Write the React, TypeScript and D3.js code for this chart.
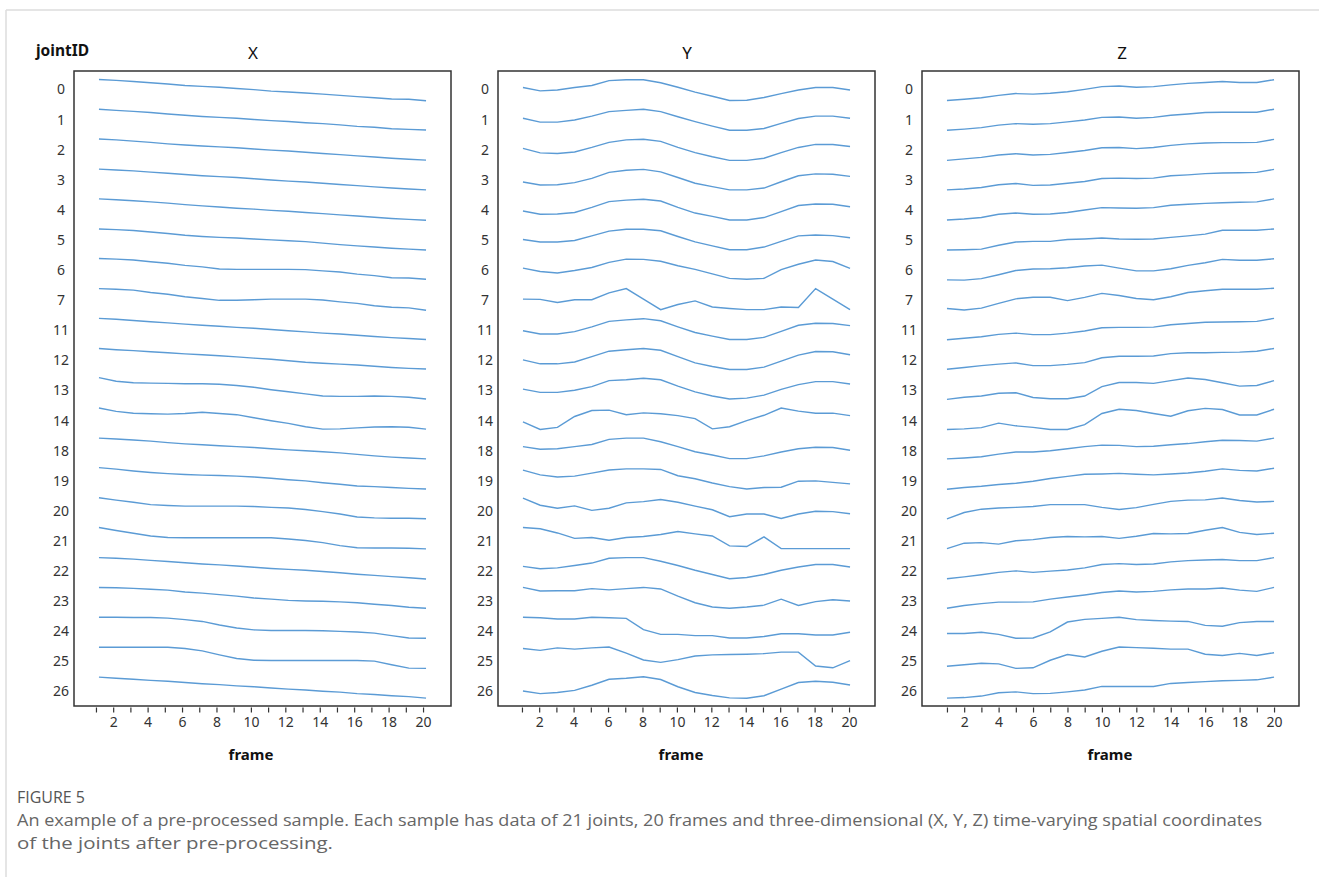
import React, { useEffect, useRef } from "react";
import * as d3 from "d3";

// joint ids shown on the left of each panel, top to bottom
const jointIds = ["0", "1", "2", "3", "4", "5", "6", "7", "11", "12", "13", "14", "18", "19", "20", "21", "22", "23", "24", "25", "26"];
const frames = [1, 2, 3, 4, 5, 6, 7, 8, 9, 10, 11, 12, 13, 14, 15, 16, 17, 18, 19, 20];
const frameTickLabels = [2, 4, 6, 8, 10, 12, 14, 16, 18, 20];
const panelTitles = ["X", "Y", "Z"];

// normalised coordinate per joint (row) and frame, offset from the row centre
const xValues = [
  [-0.32, -0.29, -0.25, -0.21, -0.17, -0.12, -0.09, -0.06, -0.02, 0.02, 0.07, 0.10, 0.13, 0.17, 0.21, 0.25, 0.29, 0.33, 0.34, 0.39],
  [-0.33, -0.29, -0.26, -0.22, -0.17, -0.13, -0.09, -0.06, -0.03, 0.01, 0.05, 0.08, 0.12, 0.15, 0.19, 0.24, 0.27, 0.32, 0.34, 0.36],
  [-0.34, -0.31, -0.27, -0.23, -0.18, -0.14, -0.11, -0.08, -0.05, -0.01, 0.03, 0.06, 0.10, 0.14, 0.18, 0.22, 0.26, 0.30, 0.33, 0.36],
  [-0.34, -0.31, -0.28, -0.24, -0.20, -0.16, -0.12, -0.09, -0.06, -0.02, 0.02, 0.06, 0.09, 0.13, 0.17, 0.21, 0.25, 0.29, 0.32, 0.35],
  [-0.35, -0.32, -0.29, -0.25, -0.21, -0.16, -0.12, -0.08, -0.04, -0.01, 0.03, 0.06, 0.10, 0.14, 0.18, 0.22, 0.26, 0.30, 0.33, 0.36],
  [-0.35, -0.33, -0.30, -0.25, -0.20, -0.14, -0.10, -0.07, -0.05, -0.02, 0.01, 0.04, 0.07, 0.12, 0.17, 0.21, 0.25, 0.29, 0.32, 0.35],
  [-0.37, -0.35, -0.32, -0.26, -0.21, -0.14, -0.09, -0.02, -0.01, -0.01, -0.01, -0.01, 0.00, 0.04, 0.08, 0.15, 0.20, 0.27, 0.28, 0.32],
  [-0.37, -0.35, -0.32, -0.24, -0.18, -0.10, -0.04, 0.02, 0.02, 0.00, -0.02, -0.02, -0.02, 0.01, 0.07, 0.12, 0.20, 0.25, 0.27, 0.35],
  [-0.38, -0.35, -0.31, -0.27, -0.23, -0.19, -0.15, -0.12, -0.08, -0.05, -0.01, 0.03, 0.07, 0.11, 0.14, 0.18, 0.22, 0.26, 0.29, 0.32],
  [-0.38, -0.34, -0.31, -0.27, -0.24, -0.20, -0.17, -0.14, -0.10, -0.06, -0.02, 0.03, 0.08, 0.11, 0.14, 0.17, 0.21, 0.25, 0.28, 0.30],
  [-0.41, -0.29, -0.24, -0.23, -0.22, -0.21, -0.21, -0.19, -0.15, -0.09, -0.01, 0.06, 0.13, 0.20, 0.21, 0.21, 0.20, 0.21, 0.24, 0.30],
  [-0.40, -0.29, -0.23, -0.21, -0.20, -0.22, -0.26, -0.22, -0.18, -0.08, 0.02, 0.11, 0.22, 0.30, 0.29, 0.26, 0.23, 0.22, 0.24, 0.30],
  [-0.40, -0.37, -0.34, -0.30, -0.25, -0.21, -0.18, -0.15, -0.12, -0.09, -0.05, -0.01, 0.02, 0.05, 0.09, 0.14, 0.19, 0.23, 0.26, 0.29],
  [-0.42, -0.37, -0.31, -0.26, -0.22, -0.19, -0.17, -0.16, -0.14, -0.11, -0.07, -0.02, 0.02, 0.08, 0.13, 0.19, 0.21, 0.24, 0.27, 0.29],
  [-0.42, -0.34, -0.27, -0.19, -0.16, -0.14, -0.14, -0.14, -0.14, -0.13, -0.10, -0.08, -0.03, 0.04, 0.12, 0.22, 0.25, 0.26, 0.26, 0.28],
  [-0.43, -0.33, -0.24, -0.15, -0.10, -0.09, -0.09, -0.09, -0.09, -0.09, -0.09, -0.05, 0.00, 0.07, 0.17, 0.24, 0.25, 0.25, 0.26, 0.28],
  [-0.43, -0.41, -0.38, -0.34, -0.30, -0.26, -0.22, -0.19, -0.15, -0.11, -0.07, -0.04, -0.01, 0.03, 0.07, 0.12, 0.16, 0.20, 0.24, 0.28],
  [-0.44, -0.43, -0.41, -0.38, -0.35, -0.29, -0.25, -0.20, -0.15, -0.09, -0.05, -0.01, 0.01, 0.02, 0.04, 0.07, 0.12, 0.16, 0.22, 0.25],
  [-0.45, -0.45, -0.44, -0.44, -0.42, -0.37, -0.31, -0.19, -0.09, -0.03, -0.01, -0.01, -0.01, 0.00, 0.02, 0.04, 0.08, 0.16, 0.24, 0.25],
  [-0.45, -0.45, -0.45, -0.45, -0.45, -0.41, -0.33, -0.20, -0.08, -0.02, -0.01, -0.01, -0.01, -0.01, -0.01, -0.01, 0.01, 0.13, 0.24, 0.25],
  [-0.46, -0.42, -0.39, -0.35, -0.32, -0.28, -0.24, -0.21, -0.17, -0.14, -0.10, -0.06, -0.03, 0.01, 0.04, 0.09, 0.12, 0.16, 0.19, 0.24],
];

const yValues = [
  [-0.05, 0.06, 0.03, -0.05, -0.12, -0.28, -0.31, -0.31, -0.21, -0.06, 0.10, 0.24, 0.38, 0.37, 0.28, 0.15, 0.03, -0.05, -0.05, 0.03],
  [-0.03, 0.10, 0.10, 0.03, -0.10, -0.25, -0.29, -0.33, -0.25, -0.08, 0.08, 0.23, 0.37, 0.37, 0.31, 0.14, -0.02, -0.10, -0.10, -0.03],
  [-0.03, 0.12, 0.14, 0.09, -0.06, -0.23, -0.31, -0.33, -0.26, -0.06, 0.11, 0.25, 0.37, 0.37, 0.30, 0.11, -0.06, -0.16, -0.16, -0.09],
  [0.09, 0.19, 0.18, 0.11, -0.03, -0.23, -0.30, -0.33, -0.25, -0.06, 0.13, 0.24, 0.35, 0.35, 0.29, 0.08, -0.12, -0.18, -0.17, -0.10],
  [0.05, 0.16, 0.15, 0.10, -0.07, -0.26, -0.31, -0.34, -0.28, -0.07, 0.12, 0.23, 0.35, 0.35, 0.27, 0.07, -0.13, -0.18, -0.17, -0.09],
  [0.00, 0.08, 0.08, 0.03, -0.12, -0.28, -0.34, -0.34, -0.29, -0.10, 0.08, 0.21, 0.34, 0.34, 0.25, 0.06, -0.12, -0.15, -0.13, -0.06],
  [-0.05, 0.06, 0.11, 0.03, -0.07, -0.24, -0.35, -0.34, -0.28, -0.13, -0.01, 0.14, 0.29, 0.32, 0.29, 0.00, -0.18, -0.32, -0.27, -0.04],
  [-0.02, -0.01, 0.09, 0.00, 0.00, -0.23, -0.37, -0.02, 0.33, 0.16, 0.04, 0.24, 0.29, 0.33, 0.33, 0.24, 0.26, -0.37, -0.02, 0.33],
  [0.03, 0.14, 0.14, 0.06, -0.10, -0.28, -0.33, -0.37, -0.30, -0.10, 0.09, 0.21, 0.32, 0.32, 0.25, 0.05, -0.15, -0.22, -0.21, -0.14],
  [0.00, 0.13, 0.13, 0.07, -0.11, -0.29, -0.34, -0.38, -0.32, -0.11, 0.10, 0.22, 0.32, 0.32, 0.24, 0.04, -0.16, -0.28, -0.27, -0.17],
  [-0.03, 0.08, 0.08, 0.01, -0.11, -0.31, -0.34, -0.39, -0.34, -0.13, 0.06, 0.20, 0.30, 0.27, 0.17, -0.02, -0.18, -0.28, -0.28, -0.20],
  [0.06, 0.31, 0.24, -0.12, -0.32, -0.33, -0.18, -0.24, -0.21, -0.15, -0.05, 0.29, 0.22, 0.02, -0.16, -0.40, -0.30, -0.23, -0.23, -0.15],
  [-0.12, -0.03, -0.05, -0.12, -0.19, -0.36, -0.40, -0.40, -0.28, -0.12, 0.05, 0.16, 0.28, 0.28, 0.19, 0.06, -0.05, -0.10, -0.09, 0.00],
  [-0.34, -0.18, -0.11, -0.14, -0.24, -0.34, -0.38, -0.38, -0.36, -0.15, -0.05, 0.09, 0.21, 0.29, 0.24, 0.23, 0.03, 0.02, 0.07, 0.12],
  [-0.41, -0.17, -0.07, -0.15, 0.00, -0.07, -0.25, -0.29, -0.36, -0.27, -0.14, -0.02, 0.21, 0.12, 0.12, 0.27, 0.12, 0.03, 0.04, 0.11],
  [-0.43, -0.39, -0.25, -0.07, -0.10, -0.01, -0.10, -0.13, -0.20, -0.30, -0.22, -0.15, 0.18, 0.20, -0.12, 0.27, 0.27, 0.27, 0.27, 0.27],
  [-0.14, -0.06, -0.09, -0.17, -0.25, -0.41, -0.43, -0.43, -0.31, -0.17, -0.01, 0.13, 0.27, 0.23, 0.13, -0.01, -0.12, -0.20, -0.20, -0.12],
  [-0.44, -0.32, -0.33, -0.33, -0.40, -0.36, -0.40, -0.44, -0.39, -0.15, 0.07, 0.21, 0.25, 0.21, 0.15, -0.05, 0.16, 0.03, -0.03, 0.01],
  [-0.45, -0.43, -0.39, -0.39, -0.45, -0.43, -0.41, -0.04, 0.12, 0.12, 0.16, 0.16, 0.24, 0.24, 0.19, 0.10, 0.10, 0.14, 0.14, 0.05],
  [-0.41, -0.35, -0.43, -0.39, -0.43, -0.46, -0.26, -0.03, 0.05, -0.04, -0.16, -0.20, -0.21, -0.22, -0.24, -0.29, -0.29, 0.17, 0.23, -0.01],
  [0.00, 0.09, 0.05, -0.02, -0.19, -0.39, -0.42, -0.47, -0.38, -0.14, 0.05, 0.15, 0.23, 0.24, 0.16, -0.06, -0.28, -0.32, -0.29, -0.20],
];

const zValues = [
  [0.38, 0.34, 0.29, 0.21, 0.15, 0.17, 0.14, 0.09, 0.01, -0.08, -0.10, -0.06, -0.08, -0.14, -0.19, -0.22, -0.25, -0.22, -0.22, -0.31],
  [0.37, 0.33, 0.28, 0.20, 0.15, 0.17, 0.15, 0.09, 0.03, -0.06, -0.07, -0.03, -0.06, -0.13, -0.17, -0.22, -0.23, -0.23, -0.23, -0.33],
  [0.37, 0.32, 0.27, 0.19, 0.15, 0.19, 0.17, 0.11, 0.04, -0.05, -0.06, -0.02, -0.06, -0.13, -0.18, -0.21, -0.22, -0.22, -0.23, -0.33],
  [0.35, 0.32, 0.27, 0.18, 0.14, 0.20, 0.19, 0.13, 0.07, -0.03, -0.04, -0.03, -0.04, -0.12, -0.15, -0.19, -0.21, -0.22, -0.23, -0.33],
  [0.35, 0.32, 0.27, 0.16, 0.12, 0.16, 0.15, 0.10, 0.02, -0.06, -0.05, -0.04, -0.06, -0.14, -0.17, -0.20, -0.22, -0.24, -0.25, -0.35],
  [0.35, 0.34, 0.32, 0.19, 0.08, 0.06, 0.06, 0.00, -0.02, -0.05, -0.02, -0.01, -0.02, -0.07, -0.12, -0.18, -0.31, -0.31, -0.31, -0.35],
  [0.34, 0.35, 0.30, 0.17, 0.03, -0.02, -0.03, -0.06, -0.12, -0.15, -0.05, 0.04, 0.04, -0.03, -0.14, -0.23, -0.34, -0.31, -0.31, -0.36],
  [0.29, 0.34, 0.28, 0.12, -0.03, -0.08, -0.08, 0.03, -0.08, -0.21, -0.14, -0.04, 0.00, -0.10, -0.24, -0.30, -0.35, -0.35, -0.35, -0.38],
  [0.33, 0.28, 0.23, 0.15, 0.11, 0.16, 0.16, 0.11, 0.04, -0.07, -0.08, -0.08, -0.09, -0.17, -0.21, -0.25, -0.26, -0.27, -0.28, -0.38],
  [0.31, 0.25, 0.19, 0.14, 0.10, 0.19, 0.19, 0.15, 0.09, -0.07, -0.12, -0.12, -0.13, -0.21, -0.24, -0.24, -0.25, -0.26, -0.29, -0.38],
  [0.31, 0.24, 0.20, 0.11, 0.09, 0.25, 0.29, 0.29, 0.20, -0.11, -0.25, -0.25, -0.22, -0.31, -0.40, -0.35, -0.24, -0.13, -0.15, -0.31],
  [0.31, 0.29, 0.25, 0.10, 0.19, 0.24, 0.31, 0.31, 0.15, -0.22, -0.36, -0.32, -0.22, -0.13, -0.31, -0.39, -0.35, -0.17, -0.17, -0.36],
  [0.29, 0.26, 0.22, 0.13, 0.06, 0.06, 0.02, -0.05, -0.12, -0.17, -0.16, -0.12, -0.13, -0.18, -0.22, -0.28, -0.33, -0.32, -0.30, -0.40],
  [0.30, 0.24, 0.20, 0.14, 0.10, 0.03, -0.06, -0.13, -0.20, -0.21, -0.23, -0.20, -0.18, -0.21, -0.24, -0.30, -0.38, -0.33, -0.31, -0.40],
  [0.28, 0.07, -0.04, -0.08, -0.10, -0.13, -0.19, -0.19, -0.19, -0.10, -0.03, -0.09, -0.20, -0.30, -0.34, -0.35, -0.41, -0.33, -0.28, -0.30],
  [0.27, 0.09, 0.07, 0.12, 0.01, -0.03, -0.10, -0.13, -0.12, -0.13, -0.07, -0.14, -0.23, -0.22, -0.23, -0.34, -0.43, -0.27, -0.20, -0.24],
  [0.27, 0.21, 0.14, 0.06, 0.01, 0.06, 0.02, -0.02, -0.09, -0.20, -0.23, -0.20, -0.22, -0.29, -0.33, -0.35, -0.37, -0.33, -0.33, -0.43],
  [0.25, 0.16, 0.10, 0.05, 0.05, 0.04, -0.05, -0.12, -0.19, -0.27, -0.32, -0.29, -0.31, -0.36, -0.39, -0.39, -0.42, -0.35, -0.31, -0.44],
  [0.09, 0.09, 0.05, 0.12, 0.25, 0.24, 0.04, -0.29, -0.38, -0.41, -0.45, -0.37, -0.34, -0.32, -0.31, -0.18, -0.15, -0.27, -0.31, -0.31],
  [0.18, 0.13, 0.08, 0.10, 0.25, 0.23, -0.02, -0.21, -0.13, -0.32, -0.46, -0.44, -0.42, -0.39, -0.39, -0.22, -0.18, -0.25, -0.18, -0.27],
  [0.24, 0.22, 0.17, 0.06, 0.03, 0.09, 0.08, 0.03, -0.03, -0.15, -0.15, -0.15, -0.15, -0.25, -0.28, -0.31, -0.34, -0.35, -0.37, -0.46],
];

const panelValues = [xValues, yValues, zValues];

const W = 1319;
const H = 877;
const panelLeft = [74, 498, 922];
const panelW = 377;
const panelTop = 71;
const panelBottom = 706;
const titleX = [179, 189, 200];
const frameLabelX = [177, 183, 188];
const tickShift = [-3, -1, 0];
const lineColor = "#5b9bd5";
const chartFont = "'Noto Sans', 'DejaVu Sans', sans-serif";
const captionFont = "'Open Sans', sans-serif";

function App() {
  const ref = useRef<SVGSVGElement>(null);

  useEffect(() => {
    const svg = d3.select(ref.current);
    svg.selectAll("*").remove();

    // light frame around the figure
    svg.append("line").attr("x1", 6).attr("x2", W).attr("y1", 10).attr("y2", 10)
      .attr("stroke", "#dcdcdc").attr("stroke-width", 1.5);
    svg.append("line").attr("x1", 6).attr("x2", 6).attr("y1", 10).attr("y2", H)
      .attr("stroke", "#dcdcdc").attr("stroke-width", 1.5);

    const y = d3.scaleLinear().domain([-0.6, 20.5]).range([panelTop, panelBottom]);

    panelValues.forEach((rows, p) => {
      const left = panelLeft[p];
      const x = d3.scaleLinear().domain([1 - 1.45, 20 + 1.45]).range([left, left + panelW]);
      const g = svg.append("g");

      g.append("rect")
        .attr("x", left).attr("y", panelTop)
        .attr("width", panelW).attr("height", panelBottom - panelTop)
        .attr("fill", "none").attr("stroke", "#333").attr("stroke-width", 1.5);

      const line = d3.line<number>()
        .x((d, i) => x(frames[i]))
        .y(d => d);

      rows.forEach((vals, r) => {
        g.append("path")
          .attr("d", line(vals.map(v => y(r + v))))
          .attr("fill", "none")
          .attr("stroke", lineColor)
          .attr("stroke-width", 1.4);
      });

      // joint labels
      const yAxis = g.append("g")
        .attr("transform", `translate(${left},0)`)
        .call(d3.axisLeft(y).tickValues(d3.range(jointIds.length)).tickSize(0).tickFormat(i => jointIds[i as number]));
      yAxis.select(".domain").remove();
      yAxis.selectAll("text")
        .attr("x", -13).attr("dy", "0.35em")
        .attr("text-anchor", "middle")
        .attr("font-family", chartFont).attr("font-size", 14).attr("fill", "#333");

      // frame axis
      const xAxis = g.append("g")
        .attr("transform", `translate(${tickShift[p]},${panelBottom + 1.5})`)
        .call(d3.axisBottom(x).tickValues(frames).tickSize(5).tickPadding(5)
          .tickFormat(d => (frameTickLabels.includes(d as number) ? String(d) : "")));
      xAxis.select(".domain").remove();
      xAxis.selectAll("line").attr("stroke", "#333").attr("stroke-width", 1.2);
      xAxis.selectAll("text")
        .attr("font-family", chartFont).attr("font-size", 14).attr("fill", "#333");

      g.append("text")
        .attr("x", left + titleX[p]).attr("y", 59)
        .attr("text-anchor", "middle")
        .attr("font-family", chartFont).attr("font-size", 17).attr("fill", "#111")
        .text(panelTitles[p]);

      g.append("text")
        .attr("x", left + frameLabelX[p]).attr("y", 760)
        .attr("text-anchor", "middle")
        .attr("font-family", chartFont).attr("font-size", 15).attr("font-weight", "bold").attr("fill", "#111")
        .text("frame");
    });

    svg.append("text")
      .attr("x", 36).attr("y", 56)
      .attr("font-family", chartFont).attr("font-size", 15.5).attr("font-weight", "bold").attr("fill", "#111")
      .text("jointID");

    // caption
    svg.append("text")
      .attr("x", 17).attr("y", 803)
      .attr("font-family", captionFont).attr("font-size", 16).attr("fill", "#555")
      .attr("textLength", 68).attr("lengthAdjust", "spacingAndGlyphs")
      .text("FIGURE 5");
    svg.append("text")
      .attr("x", 17).attr("y", 826)
      .attr("font-family", captionFont).attr("font-size", 16.5).attr("fill", "#666")
      .attr("textLength", 1245).attr("lengthAdjust", "spacingAndGlyphs")
      .text("An example of a pre-processed sample. Each sample has data of 21 joints, 20 frames and three-dimensional (X, Y, Z) time-varying spatial coordinates");
    svg.append("text")
      .attr("x", 17).attr("y", 849)
      .attr("font-family", captionFont).attr("font-size", 16.5).attr("fill", "#666")
      .attr("textLength", 316).attr("lengthAdjust", "spacingAndGlyphs")
      .text("of the joints after pre-processing.");
  }, []);

  return (
    <div style={{ position: "absolute", left: 0, top: 0, background: "#fff" }}>
      <svg ref={ref} width={W} height={H} />
    </div>
  );
}

export default App;
